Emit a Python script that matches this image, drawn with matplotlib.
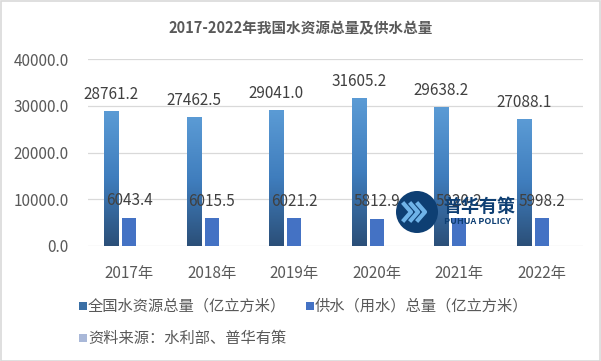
import numpy as np
import matplotlib
matplotlib.use("Agg")
import matplotlib.pyplot as plt
from matplotlib.patches import Rectangle, Ellipse
from matplotlib.colors import LinearSegmentedColormap

plt.rcParams['font.family'] = ['Noto Sans CJK SC', 'DejaVu Sans']

categories = ['2017年', '2018年', '2019年', '2020年', '2021年', '2022年']
water_resources = [28761.2, 27462.5, 29041.0, 31605.2, 29638.2, 27088.1]
water_supply = [6043.4, 6015.5, 6021.2, 5812.9, 5920.2, 5998.2]
series_names = ['全国水资源总量（亿立方米）', '供水（用水）总量（亿立方米）', '资料来源：水利部、普华有策']
title = '2017-2022年我国水资源总量及供水总量'
yticks = [0, 10000, 20000, 30000, 40000]

W, H = 601, 361
fig = plt.figure(figsize=(W / 100, H / 100), dpi=100)
fig.patch.set_facecolor('white')
fig.add_artist(Rectangle((0.5 / W, 0.5 / H), 1 - 1.5 / W, 1 - 1.5 / H, transform=fig.transFigure,
                         fill=False, edgecolor='#D9D9D9', linewidth=1.2))

ax = fig.add_axes([88 / W, 1 - 246 / H, (583 - 88) / W, (246 - 59) / H])
ax.set_yticks(yticks)
ax.set_yticklabels([f'{v:.1f}' for v in yticks], fontsize=11, color='#595959')
ax.yaxis.grid(True, color='#D9D9D9', linewidth=0.9)
ax.set_axisbelow(True)
for s in ax.spines.values():
    s.set_visible(False)
x = np.arange(len(categories))
ax.set_xticks(x)
ax.set_xticklabels(categories, fontsize=11, color='#595959')
ax.tick_params(axis='both', length=0)
ax.tick_params(axis='y', pad=14)
ax.tick_params(axis='x', pad=14)

off = 0.218
bw = 0.17
cmap = LinearSegmentedColormap.from_list('g', ['#2B4F78', '#3F7DBD', '#5B9BD5'])
grad = np.linspace(0, 1, 256).reshape(-1, 1)
bars1 = ax.bar(x - off, water_resources, width=bw, color='none', edgecolor='none')
for b in bars1:
    x0, y0, w, h = b.get_x(), b.get_y(), b.get_width(), b.get_height()
    ax.imshow(grad, cmap=cmap, origin='lower', aspect='auto',
              extent=[x0, x0 + w, y0, y0 + h], zorder=2)
bars2 = ax.bar(x, water_supply, width=bw, color='#4472C4', zorder=2)
ax.set_xlim(-0.5, 5.5)
ax.set_ylim(0, 40000)

for xi, v in zip(x - off, water_resources):
    ax.annotate(f'{v:.1f}', (xi, v), xytext=(0, 6), textcoords='offset points',
                ha='center', va='bottom', fontsize=11, color='#404040', zorder=3)
for xi, v in zip(x, water_supply):
    ax.annotate(f'{v:.1f}', (xi, v), xytext=(0, 6), textcoords='offset points',
                ha='center', va='bottom', fontsize=11, color='#404040', zorder=3)

fig.text(0.5, 1 - 28 / H, title, ha='center', va='center', fontsize=10.5,
         fontweight='bold', color='#595959')

# legend (manual)
leg_colors = ['#3A6FA5', '#4472C4', '#A9B8D8']
leg_pos = [(79, 306), (306, 306), (79, 338)]
for (lx, ly), c, name in zip(leg_pos, leg_colors, series_names):
    fig.add_artist(Rectangle((lx / W, (H - ly - 4) / H), 8 / W, 8 / H,
                             transform=fig.transFigure, facecolor=c, edgecolor='none'))
    fig.text((lx + 9) / W, (H - ly) / H, name, ha='left', va='center',
             fontsize=11, color='#595959')

# watermark
cx, cy = 417, 212
fig.add_artist(Ellipse((cx / W, (H - cy) / H), 42 / W, 42 / H, transform=fig.transFigure,
                       facecolor='#0E3F73', edgecolor='none', zorder=5))
for dx in (-9, -2, 5):
    xs = [(cx + dx - 4) / W, (cx + dx + 3) / W, (cx + dx - 4) / W]
    ys = [(H - cy + 8) / H, (H - cy) / H, (H - cy - 8) / H]
    fig.add_artist(plt.Line2D(xs, ys, transform=fig.transFigure, color='#6FB3E8',
                              linewidth=3, zorder=6))
fig.text(443 / W, (H - 206) / H, '普华有策', ha='left', va='center', fontsize=13,
         fontweight='bold', color='#0E3F73', zorder=6)
fig.text(444 / W, (H - 222) / H, 'PUHUA POLICY', ha='left', va='center', fontsize=6.5,
         fontweight='bold', color='#0E3F73', zorder=6)

fig.savefig('out.png', dpi=100)
